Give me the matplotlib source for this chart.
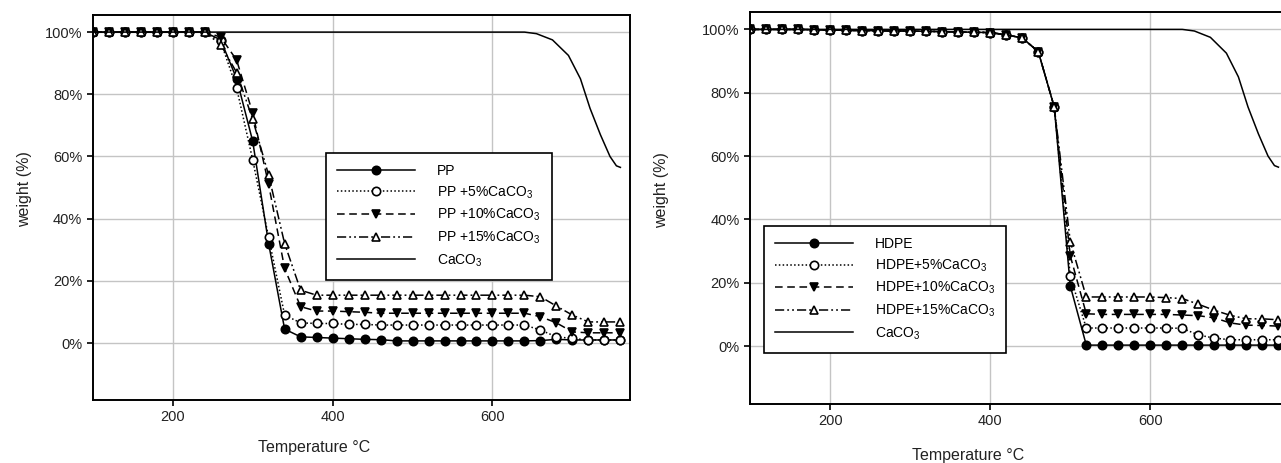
import matplotlib
matplotlib.use('Agg')
import matplotlib.pyplot as plt
from matplotlib.ticker import FuncFormatter

plt.rcParams['font.family'] = ['Liberation Sans', 'DejaVu Sans']
plt.rcParams['mathtext.fontset'] = 'custom'
plt.rcParams['mathtext.rm'] = 'Liberation Sans'
plt.rcParams['mathtext.it'] = 'Liberation Sans'

# temperatures of the marked points (°C)
temps = [100, 120, 140, 160, 180, 200, 220, 240, 260, 280, 300, 320, 340, 360, 380, 400, 420,
         440, 460, 480, 500, 520, 540, 560, 580, 600, 620, 640, 660, 680, 700, 720, 740, 760]

# PP panel
pp = [100, 100, 100, 100, 100, 100, 100, 100, 97.5, 85, 65, 32, 4.5, 2.0, 1.8, 1.6, 1.4,
      1.2, 1.1, 0.7, 0.7, 0.7, 0.7, 0.7, 0.7, 0.7, 0.7, 0.7, 0.8, 1.2, 1.0, 1.0, 1.0, 1.0]
pp5 = [100, 100, 100, 100, 100, 100, 100, 100, 97, 82, 59, 34, 9, 6.5, 6.3, 6.3, 6.0,
       6.0, 5.8, 5.8, 5.8, 5.8, 5.8, 5.8, 5.8, 5.8, 5.8, 5.8, 4.2, 2.0, 1.5, 1.0, 1.0, 1.0]
pp10 = [100, 100, 100, 100, 100, 100, 100, 100, 98.4, 91, 74, 51, 24, 11.7, 10.3, 10.3, 10.1,
        9.9, 9.6, 9.6, 9.6, 9.6, 9.6, 9.6, 9.6, 9.6, 9.6, 9.6, 8.5, 6.5, 3.6, 3.3, 3.3, 3.3]
pp15 = [100, 100, 100, 100, 100, 100, 100, 100, 96, 87, 72, 54, 32, 17, 15.4, 15.4, 15.4,
        15.4, 15.4, 15.4, 15.4, 15.4, 15.4, 15.4, 15.4, 15.4, 15.4, 15.4, 14.9, 11.9, 9.0, 6.8, 6.8, 6.8]

# HDPE panel
hdpe = [100, 100, 100, 100, 99.9, 99.8, 99.7, 99.6, 99.6, 99.5, 99.5, 99.4, 99.3, 99.2, 99.1, 99.0, 98.3,
        97.3, 93, 75.5, 19, 0.3, 0.3, 0.3, 0.3, 0.3, 0.3, 0.3, 0.3, 0.3, 0.3, 0.3, 0.3, 0.3]
hdpe5 = [100, 100, 100, 100, 99.9, 99.8, 99.7, 99.6, 99.6, 99.5, 99.5, 99.4, 99.3, 99.2, 99.1, 99.0, 98.3,
         97.3, 93, 75.5, 22, 5.7, 5.7, 5.7, 5.7, 5.7, 5.7, 5.6, 3.5, 2.5, 2.0, 2.0, 2.0, 2.0]
hdpe10 = [100, 100, 100, 100, 99.9, 99.8, 99.7, 99.6, 99.6, 99.5, 99.5, 99.4, 99.3, 99.2, 99.1, 99.0, 98.3,
          97.3, 93, 75.5, 28.5, 10.2, 10.0, 10.0, 10.0, 10.0, 10.0, 9.8, 9.6, 8.9, 7.3, 6.6, 6.5, 6.3]
hdpe15 = [100, 100, 100, 100, 99.9, 99.8, 99.7, 99.6, 99.6, 99.5, 99.5, 99.4, 99.3, 99.2, 99.1, 99.0, 98.3,
          97.3, 93, 75.5, 33, 15.5, 15.5, 15.5, 15.5, 15.5, 15.3, 15.0, 13.2, 11.3, 9.7, 8.6, 8.6, 8.3]

# CaCO3 reference curve
caco3_t = [100, 640, 655, 675, 695, 710, 722, 735, 747, 755, 760]
caco3_w = [100, 100, 99.5, 97.5, 92.5, 85, 75.5, 67, 60, 57, 56.5]

pp_labels = ['PP', 'PP +5%CaCO$_3$', 'PP +10%CaCO$_3$', 'PP +15%CaCO$_3$', 'CaCO$_3$']
hdpe_labels = ['HDPE', 'HDPE+5%CaCO$_3$', 'HDPE+10%CaCO$_3$', 'HDPE+15%CaCO$_3$', 'CaCO$_3$']

styles = [
    dict(linestyle='-', marker='o', markerfacecolor='black'),
    dict(linestyle=(0, (1, 1.5)), marker='o', markerfacecolor='white'),
    dict(linestyle=(0, (5, 3)), marker='v', markerfacecolor='black'),
    dict(linestyle=(0, (6, 2, 1.2, 2, 1.2, 2)), marker='^', markerfacecolor='white'),
]


def draw_panel(ax, series, labels, legend_xy, xlab_xy, ylab_xy):
    for y, st, lab in zip(series, styles, labels):
        ax.plot(temps, y, color='black', linewidth=1.1, markersize=6,
                markeredgecolor='black', markeredgewidth=1.2, label=lab, **st)
    ax.plot(caco3_t, caco3_w, color='black', linewidth=1.1, label=labels[-1])
    ax.set_xlim(100, 772)
    ax.set_ylim(-18.3, 105.5)
    ax.set_xticks([200, 400, 600])
    ax.set_yticks([0, 20, 40, 60, 80, 100])
    ax.yaxis.set_major_formatter(FuncFormatter(lambda v, p: f'{v:.0f}%'))
    ax.grid(True, color='#c4c4c4', linewidth=1.0)
    ax.set_axisbelow(True)
    for s in ax.spines.values():
        s.set_linewidth(1.4)
    ax.tick_params(direction='out', length=4, width=1.2, labelsize=10.5, labelcolor='#222222',
                   top=False, right=False)
    ax.set_xlabel('Temperature °C', fontsize=11.5, color='#222222')
    ax.set_ylabel('weight (%)', fontsize=11.5, color='#222222')
    ax.xaxis.set_label_coords(*xlab_xy)
    ax.yaxis.set_label_coords(*ylab_xy)
    leg = ax.legend(loc='upper left', bbox_to_anchor=legend_xy, fontsize=10, frameon=True,
                    fancybox=False, edgecolor='black', handlelength=5.6, handletextpad=1.6,
                    labelspacing=0.45, borderpad=0.8, borderaxespad=0)
    leg.get_frame().set_linewidth(1.2)
    leg.get_frame().set_alpha(1)


fig = plt.figure(figsize=(12.81, 4.63), dpi=100)
ax1 = fig.add_axes([0.0724, 0.1361, 0.4194, 0.8315])
ax2 = fig.add_axes([0.5855, 0.1274, 0.4200, 0.8467])

draw_panel(ax1, [pp, pp5, pp10, pp15], pp_labels, (0.434, 0.642), (0.412, -0.104), (-0.113, 0.548))
draw_panel(ax2, [hdpe, hdpe5, hdpe10, hdpe15], hdpe_labels, (0.026, 0.454), (0.405, -0.112), (-0.150, 0.546))

fig.savefig('out.png', dpi=100)
